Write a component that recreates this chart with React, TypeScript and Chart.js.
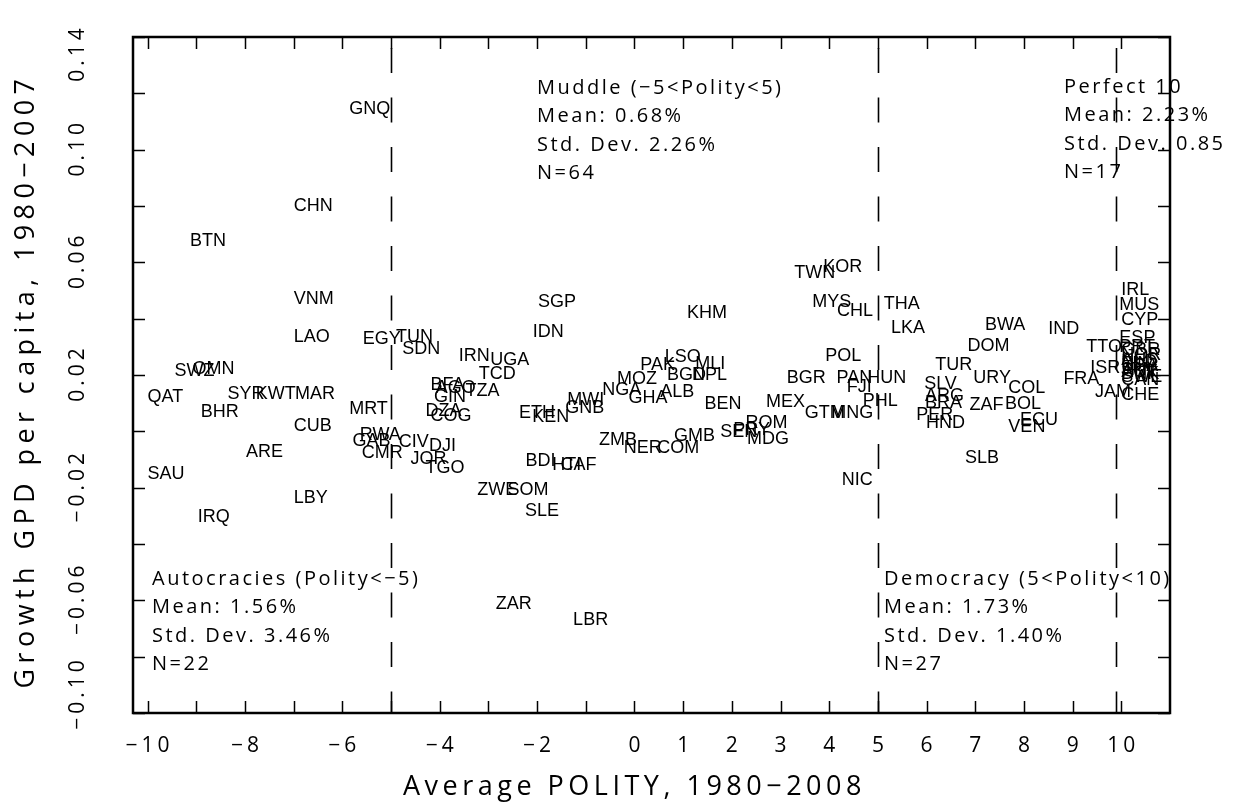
import React, { useEffect, useRef } from "react";
import { Chart, registerables } from "chart.js";

Chart.register(...registerables);

// Country codes with their average POLITY score (1980-2008) and
// average growth of GDP per capita (1980-2007).
const countryCodes = [
  // autocracies
  "GNQ", "CHN", "BTN", "VNM", "LAO", "SWZ", "OMN", "QAT", "SYR", "KWT", "MAR",
  "BHR", "CUB", "ARE", "SAU", "LBY", "IRQ", "MRT", "GAB", "EGY", "RWA", "CMR",
  // muddle
  "TUN", "SDN", "IRN", "UGA", "TCD", "BFA", "AGO", "GIN", "TZA", "DZA", "COG",
  "CIV", "DJI", "JOR", "TGO", "SGP", "IDN", "ETH", "KEN", "GNB", "MWI", "BDI",
  "HTI", "CAF", "ZWE", "SOM", "SLE", "ZAR", "LBR", "KHM", "LSO", "PAK", "MLI",
  "BGD", "NPL", "MOZ", "NGA", "ALB", "GHA", "BEN", "ZMB", "NER", "COM", "GMB",
  "SEN", "PRY", "ROM", "MDG", "MEX", "TWN", "KOR", "MYS", "CHL", "POL", "BGR",
  "PAN", "HUN", "FJI", "PHL", "NIC", "GTM", "MNG",
  // democracies
  "THA", "LKA", "TUR", "SLV", "ARG", "BRA", "PER", "HND", "BWA", "DOM", "URY",
  "ZAF", "COL", "BOL", "ECU", "VEN", "SLB", "IND", "FRA", "ISR", "JAM", "TTO",
  // perfect 10
  "IRL", "MUS", "CYP", "ESP", "CHE", "PRT", "GBR", "NOR", "NLD", "AUS", "USA",
  "FIN", "JPN", "AUT", "DNK", "SWE", "CAN",
];

const polityScores = [
  -5.86, -7.0, -9.13, -7.0, -7.0, -9.45, -9.08, -10.0, -8.36, -7.78, -6.97,
  -8.91, -7.0, -7.98, -10.0, -7.0, -8.97, -5.86, -5.79, -5.58, -5.64, -5.6,
  -4.9, -4.77, -3.61, -2.96, -3.2, -4.19, -4.08, -4.12, -3.47, -4.29, -4.19,
  -4.84, -4.22, -4.6, -4.29, -1.98, -2.09, -2.37, -2.1, -1.42, -1.38, -2.24,
  -1.69, -1.52, -3.23, -2.61, -2.25, -2.85, -1.26, 1.08, 0.62, 0.12, 1.25,
  0.67, 1.18, -0.36, -0.66, 0.53, -0.12, 1.44, -0.73, -0.22, 0.47, 0.81,
  1.76, 2.03, 2.28, 2.31, 2.7, 3.28, 3.88, 3.65, 4.16, 3.92, 3.13,
  4.15, 4.78, 4.36, 4.69, 4.26, 3.5, 4.04,
  5.12, 5.27, 6.18, 5.95, 5.97, 5.97, 5.79, 5.99, 7.2, 6.84, 6.96,
  6.88, 7.68, 7.61, 7.92, 7.68, 6.79, 8.5, 8.81, 9.36, 9.46, 9.28,
  10.0, 9.96, 10.0, 9.96, 10.0, 9.96, 10.0, 10.0, 10.0, 10.0, 10.0,
  10.0, 10.0, 10.0, 10.0, 10.0, 10.0,
];

const growthRates = [
  0.1143, 0.08, 0.0677, 0.0469, 0.0336, 0.0215, 0.022, 0.0123, 0.0131, 0.0131, 0.0131,
  0.0068, 0.002, -0.0072, -0.0153, -0.0238, -0.0305, 0.0078, -0.0033, 0.0328, -0.0013, -0.0078,
  0.0334, 0.0292, 0.0267, 0.0253, 0.0203, 0.0165, 0.0154, 0.0123, 0.0143, 0.0072, 0.0054,
  -0.0037, -0.0051, -0.0099, -0.0131, 0.046, 0.0354, 0.0064, 0.005, 0.0083, 0.0111, -0.0105,
  -0.012, -0.012, -0.0208, -0.0208, -0.0282, -0.0612, -0.0669, 0.0421, 0.0265, 0.0236, 0.0239,
  0.02, 0.02, 0.0185, 0.0147, 0.0141, 0.0117, 0.0097, -0.0031, -0.006, -0.006, -0.0016,
  -0.0001, 0.0005, 0.0031, -0.0027, 0.0105, 0.0563, 0.0585, 0.046, 0.0427, 0.0269, 0.0188,
  0.019, 0.019, 0.0158, 0.0108, -0.0173, 0.0066, 0.0066,
  0.0452, 0.0366, 0.0236, 0.0168, 0.0125, 0.01, 0.0058, 0.0029, 0.0378, 0.0303, 0.0188,
  0.0094, 0.0153, 0.0097, 0.004, 0.0016, -0.0096, 0.0362, 0.0185, 0.0224, 0.0141, 0.0298,
  0.0502, 0.0449, 0.0395, 0.033, 0.0129, 0.03, 0.0289, 0.0271, 0.0246, 0.0253, 0.0232,
  0.0239, 0.0218, 0.0211, 0.0204, 0.0193, 0.0182,
];

// Axis ticks and labels
const xTickValues = [-10, -9, -8, -7, -6, -5, -4, -3, -2, -1, 0, 1, 2, 3, 4, 5, 6, 7, 8, 9, 10];
const xLabelValues = [-10, -8, -6, -4, -2, 0, 1, 2, 3, 4, 5, 6, 7, 8, 9, 10];
const yTickValues = [-0.1, -0.08, -0.06, -0.04, -0.02, 0, 0.02, 0.04, 0.06, 0.08, 0.1, 0.12, 0.14];
const yLabelValues = [0.14, 0.1, 0.06, 0.02, -0.02, -0.06, -0.1];

// Regime cut-offs drawn as dashed lines
const cutoffs = [-5, 5, 9.9];

// Group summaries
const groupTitles = ["Autocracies (Polity<\u22125)", "Muddle (\u22125<Polity<5)", "Democracy (5<Polity<10)", "Perfect 10"];
const groupMeans = ["1.56%", "0.68%", "1.73%", "2.23%"];
const groupStdDevs = ["3.46%", "2.26%", "1.40%", "0.85"];
const groupCounts = [22, 64, 27, 17];

const X_TITLE = "Average POLITY, 1980\u22122008";
const Y_TITLE = "Growth GPD per capita, 1980\u22122007";

const STROKE_FONT = '"Open Sans", "DejaVu Sans", sans-serif';
const LABEL_FONT = '"Liberation Sans", Arial, sans-serif';

const fmtMinus = (s: string) => s.replace("-", "\u2212");
const fmtX = (v: number) => fmtMinus(String(v));
const fmtY = (v: number) => fmtMinus(v.toFixed(2));

function spaced(ctx: CanvasRenderingContext2D, text: string, x: number, y: number, spacing: number) {
  (ctx as any).letterSpacing = spacing + "px";
  ctx.fillText(text, x, y);
  (ctx as any).letterSpacing = "0px";
}

const polityPlugin = {
  id: "polityDecor",
  afterDatasetsDraw(chart: any) {
    const { ctx, chartArea: a } = chart;
    const xs = chart.scales.x;
    const ys = chart.scales.y;
    ctx.save();
    ctx.strokeStyle = "#000";
    ctx.fillStyle = "#000";

    // dashed regime cut-offs
    ctx.lineWidth = 1.6;
    ctx.setLineDash([25, 24.5]);
    for (const c of cutoffs) {
      const px = Math.round(xs.getPixelForValue(c)) + 0.5;
      ctx.beginPath();
      ctx.moveTo(px, a.top + 11);
      ctx.lineTo(px, a.bottom);
      ctx.stroke();
    }
    ctx.setLineDash([]);

    // inward tick marks on all four sides
    const tl = 12;
    ctx.lineWidth = 1.5;
    ctx.beginPath();
    for (const v of xTickValues) {
      const px = Math.round(xs.getPixelForValue(v)) + 0.5;
      ctx.moveTo(px, a.bottom);
      ctx.lineTo(px, a.bottom - tl);
      ctx.moveTo(px, a.top);
      ctx.lineTo(px, a.top + tl);
    }
    for (const v of yTickValues) {
      const py = Math.round(ys.getPixelForValue(v)) + 0.5;
      ctx.moveTo(a.left, py);
      ctx.lineTo(a.left + tl, py);
      ctx.moveTo(a.right, py);
      ctx.lineTo(a.right - tl, py);
    }
    ctx.stroke();

    // frame
    ctx.lineWidth = 2.5;
    ctx.strokeRect(a.left, a.top, a.right - a.left, a.bottom - a.top);

    // country labels, anchored at the left edge of each point
    ctx.font = "18px " + LABEL_FONT;
    ctx.textAlign = "left";
    ctx.textBaseline = "middle";
    const meta = chart.getDatasetMeta(0);
    meta.data.forEach((pt: any, i: number) => {
      ctx.fillText(countryCodes[i], pt.x, pt.y);
    });

    // x tick labels
    ctx.font = "400 21px " + STROKE_FONT;
    ctx.textAlign = "center";
    ctx.textBaseline = "middle";
    for (const v of xLabelValues) {
      spaced(ctx, fmtX(v), xs.getPixelForValue(v) + 2, a.bottom + 33, 4);
    }

    // y tick labels, rotated; the end labels are pulled inside the frame
    yLabelValues.forEach((v, i) => {
      let py = ys.getPixelForValue(v);
      if (i === 0) py += 18;
      if (i === yLabelValues.length - 1) py -= 18;
      ctx.save();
      ctx.translate(78, py);
      ctx.rotate(-Math.PI / 2);
      spaced(ctx, fmtY(v), 2, 0, 4);
      ctx.restore();
    });

    // axis titles
    ctx.font = "400 27px " + STROKE_FONT;
    spaced(ctx, X_TITLE, xs.getPixelForValue(0), a.bottom + 74, 4.5);
    ctx.save();
    ctx.translate(26, (a.top + a.bottom) / 2 + 8);
    ctx.rotate(-Math.PI / 2);
    spaced(ctx, Y_TITLE, 2, 0, 5.4);
    ctx.restore();

    // group summaries
    ctx.font = "400 20px " + STROKE_FONT;
    ctx.textAlign = "left";
    const boxes = [
      [152, 579],
      [537, 88],
      [884, 579],
      [1064, 87],
    ];
    groupTitles.forEach((t, i) => {
      const [bx, by] = boxes[i];
      const lines = [t, "Mean: " + groupMeans[i], "Std. Dev. " + groupStdDevs[i], "N=" + groupCounts[i]];
      lines.forEach((ln, j) => spaced(ctx, ln, bx, by + j * 28.5, 2.5));
    });

    ctx.restore();
  },
};

export default function App() {
  const canvasRef = useRef<HTMLCanvasElement | null>(null);

  useEffect(() => {
    const canvas = canvasRef.current;
    if (!canvas) return;
    const points = polityScores.map((p, i) => ({ x: p, y: growthRates[i] }));
    const chart = new Chart(canvas, {
      type: "scatter",
      data: {
        datasets: [
          {
            data: points,
            pointRadius: 0,
            pointHoverRadius: 0,
            borderWidth: 0,
          },
        ],
      },
      options: {
        animation: false,
        responsive: false,
        devicePixelRatio: 1,
        events: [],
        layout: { padding: { left: 133, right: 68, top: 37, bottom: 92 } },
        plugins: { legend: { display: false }, tooltip: { enabled: false } },
        scales: {
          x: { type: "linear", min: -10.3, max: 11, display: false },
          y: { type: "linear", min: -0.1, max: 0.14, display: false },
        },
      },
      plugins: [polityPlugin],
    });
    return () => chart.destroy();
  }, []);

  return (
    <div style={{ position: "absolute", left: 0, top: 0, width: 1238, height: 805, background: "#fff" }}>
      <canvas ref={canvasRef} width={1238} height={805} />
    </div>
  );
}
